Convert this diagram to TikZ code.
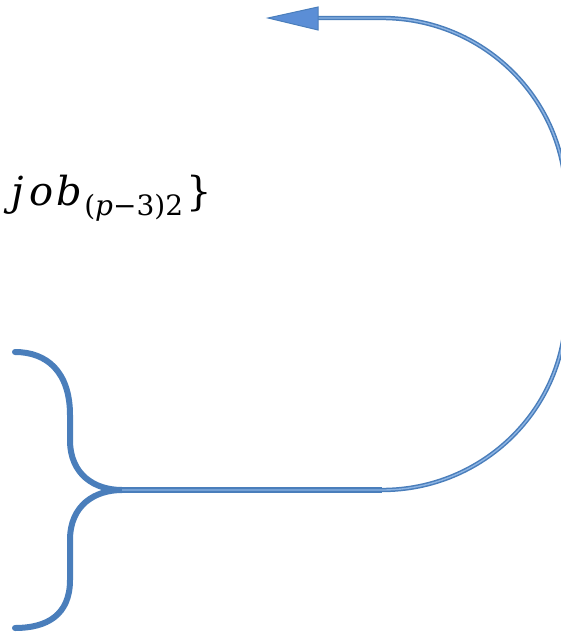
\documentclass[tikz,border=0pt]{standalone}
\usepackage{fontspec}
\setmainfont{DejaVu Serif}
\definecolor{bdark}{HTML}{4A7EBB}
\definecolor{blight}{HTML}{8DB4E3}
\definecolor{bhead}{HTML}{5B8ED6}
\tikzset{
  bracepath/.style={draw=bdark, line width=6pt, line cap=round},
  dblpath/.style={draw=bdark, line width=1.5pt, double=blight, double distance=1.4pt},
  headshape/.style={fill=bhead, draw=bdark, line width=1pt, line join=miter},
  lbl/.style={anchor=base west, inner sep=0pt}
}
\begin{document}
\begin{tikzpicture}[x=1pt,y=-1pt]
\useasboundingbox (0,0) rectangle (561,634);
\clip (0,0) rectangle (561,634);
\coordinate (btop) at (15,352);
\coordinate (bbot) at (15,628);
\coordinate (tip) at (122,490);
\coordinate (head) at (318,18);
\coordinate (headtip) at (268,18);
% brace
\draw[bracepath] (btop) .. controls (47,352) and (70,372) .. (70,415) -- (70,440)
  .. controls (70,475) and (95,490) .. (tip)
  .. controls (95,490) and (70,505) .. (70,540) -- (70,580)
  .. controls (70,615) and (47,628) .. (bbot);
\draw[bracepath, line width=5.5pt, line cap=butt] (tip) -- (382,490);
% connector
\draw[dblpath] (tip) -- (382,490) .. controls (483,490) and (566,409) .. (566,308)
  -- (566,200) .. controls (566,99) and (483,18) .. (382,18) -- (head);
% arrowhead
\draw[headshape] (headtip) -- (318,7) -- (318,30) -- cycle;
% label
\node[lbl] (label) at (11,205) {\fontsize{40}{44}\selectfont\itshape j\hspace{6pt}o\hspace{3pt}b\upshape\hspace{2pt}\raisebox{-10pt}{\fontsize{28}{32}\selectfont(\textit{p}−3)2}\hspace{3pt}\}};
\end{tikzpicture}
\end{document}
